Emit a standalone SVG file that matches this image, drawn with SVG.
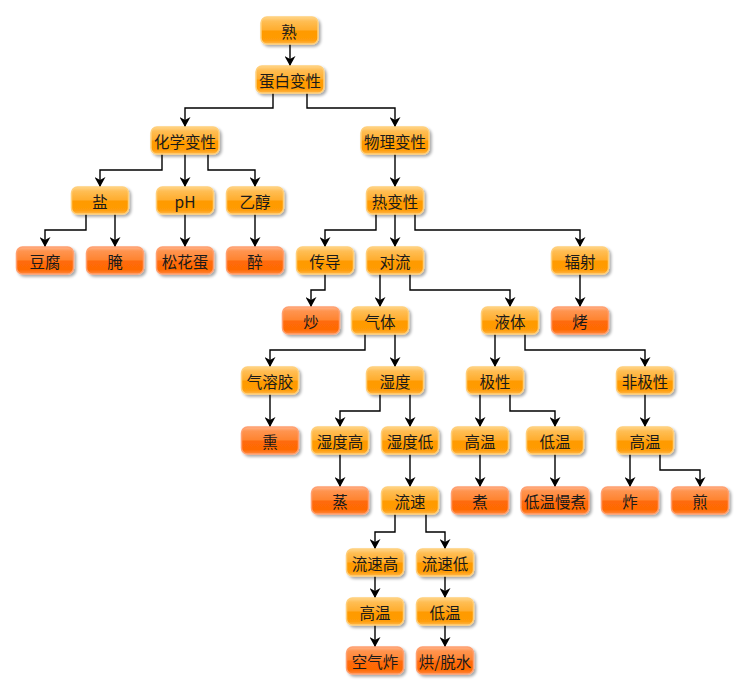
<svg xmlns="http://www.w3.org/2000/svg" width="745" height="690" viewBox="0 0 745 690">
<defs>
<linearGradient id="gi" x1="0" y1="0" x2="0" y2="1">
<stop offset="0" stop-color="#FFD58A"/>
<stop offset="0.15" stop-color="#FFBE55"/>
<stop offset="0.48" stop-color="#FFAD2E"/>
<stop offset="0.52" stop-color="#FF9A00"/>
<stop offset="0.85" stop-color="#FF9C08"/>
<stop offset="1" stop-color="#FFB648"/>
</linearGradient>
<linearGradient id="gl" x1="0" y1="0" x2="0" y2="1">
<stop offset="0" stop-color="#FFB58A"/>
<stop offset="0.15" stop-color="#FF9450"/>
<stop offset="0.48" stop-color="#FF8430"/>
<stop offset="0.52" stop-color="#FF6A08"/>
<stop offset="0.85" stop-color="#FF6A05"/>
<stop offset="1" stop-color="#FF8A40"/>
</linearGradient>
<filter id="sh" x="-20%" y="-30%" width="150%" height="180%">
<feGaussianBlur in="SourceAlpha" stdDeviation="1.5"/>
<feOffset dx="2" dy="2" result="b"/>
<feComponentTransfer><feFuncA type="linear" slope="0.35"/></feComponentTransfer>
<feMerge><feMergeNode/><feMergeNode in="SourceGraphic"/></feMerge>
</filter>
<marker id="ah" markerWidth="10" markerHeight="11" refX="10" refY="5.5" orient="auto" markerUnits="userSpaceOnUse">
<path d="M0,0 L10,5.5 L0,11 L3,5.5 Z" fill="#000"/>
</marker>
</defs>
<style>
.n rect{fill:url(#gi);stroke:#FFCF7A;stroke-width:1.5;filter:url(#sh)}
.l rect{fill:url(#gl);stroke:#FFA070;stroke-width:1.5;filter:url(#sh)}
text{font-family:"Noto Sans CJK SC","Noto Sans",sans-serif;font-size:15.5px;fill:#1a1a1a;text-anchor:middle;dominant-baseline:central}
#edges path{fill:none;stroke:#000;stroke-width:1.4;marker-end:url(#ah)}
</style>
<g id="edges">
<path d="M290,44 V66"/>
<path d="M273,93 V108 H185 V127"/>
<path d="M307,93 V108 H395 V127"/>
<path d="M162,154 V170 H100 V187"/>
<path d="M185,154 V187"/>
<path d="M208,154 V170 H255 V187"/>
<path d="M395,154 V187"/>
<path d="M86,214 V230 H45 V247"/>
<path d="M115,214 V247"/>
<path d="M185,214 V247"/>
<path d="M255,214 V247"/>
<path d="M376,214 V230 H325 V247"/>
<path d="M395,214 V247"/>
<path d="M415,214 V230 H580 V247"/>
<path d="M325,274 V290 H311 V307"/>
<path d="M380,274 V307"/>
<path d="M410,274 V290 H510 V307"/>
<path d="M580,274 V307"/>
<path d="M365,334 V350 H270 V367"/>
<path d="M395,334 V367"/>
<path d="M495,334 V367"/>
<path d="M525,334 V350 H645 V367"/>
<path d="M270,394 V427"/>
<path d="M380,394 V411 H340 V427"/>
<path d="M410,394 V427"/>
<path d="M480,394 V427"/>
<path d="M510,394 V411 H555 V427"/>
<path d="M645,394 V427"/>
<path d="M340,454 V487"/>
<path d="M410,454 V487"/>
<path d="M480,454 V487"/>
<path d="M555,454 V487"/>
<path d="M630,454 V487"/>
<path d="M660,454 V470 H700 V487"/>
<path d="M395,514 V532 H375 V549"/>
<path d="M426,514 V532 H445 V549"/>
<path d="M375,576 V598"/>
<path d="M445,576 V598"/>
<path d="M375,625 V647"/>
<path d="M445,625 V647"/>
</g>
<g id="n-shu" class="n"><rect x="261" y="17" width="57" height="27" rx="6"/><text x="289" y="30.5">熟</text></g>
<g id="n-danbai" class="n"><rect x="256" y="66" width="68" height="27" rx="6"/><text x="290" y="79.5">蛋白变性</text></g>
<g id="n-huaxue" class="n"><rect x="151" y="127" width="68" height="27" rx="6"/><text x="185" y="140.5">化学变性</text></g>
<g id="n-wuli" class="n"><rect x="361" y="127" width="68" height="27" rx="6"/><text x="395" y="140.5">物理变性</text></g>
<g id="n-yan" class="n"><rect x="71.5" y="187" width="57" height="27" rx="6"/><text x="100" y="200.5">盐</text></g>
<g id="n-ph" class="n"><rect x="156.5" y="187" width="57" height="27" rx="6"/><text x="185" y="200.5">pH</text></g>
<g id="n-yichun" class="n"><rect x="226.5" y="187" width="57" height="27" rx="6"/><text x="255" y="200.5">乙醇</text></g>
<g id="n-rebian" class="n"><rect x="366.5" y="187" width="57" height="27" rx="6"/><text x="395" y="200.5">热变性</text></g>
<g id="n-doufu" class="l"><rect x="16.5" y="247" width="57" height="27" rx="6"/><text x="45" y="260.5">豆腐</text></g>
<g id="n-yan2" class="l"><rect x="86.5" y="247" width="57" height="27" rx="6"/><text x="115" y="260.5">腌</text></g>
<g id="n-songhua" class="l"><rect x="156.5" y="247" width="57" height="27" rx="6"/><text x="185" y="260.5">松花蛋</text></g>
<g id="n-zui" class="l"><rect x="226.5" y="247" width="57" height="27" rx="6"/><text x="255" y="260.5">醉</text></g>
<g id="n-chuandao" class="n"><rect x="296.5" y="247" width="57" height="27" rx="6"/><text x="325" y="260.5">传导</text></g>
<g id="n-duiliu" class="n"><rect x="366.5" y="247" width="57" height="27" rx="6"/><text x="395" y="260.5">对流</text></g>
<g id="n-fushe" class="n"><rect x="551.5" y="247" width="57" height="27" rx="6"/><text x="580" y="260.5">辐射</text></g>
<g id="n-chao" class="l"><rect x="282.5" y="307" width="57" height="27" rx="6"/><text x="311" y="320.5">炒</text></g>
<g id="n-qiti" class="n"><rect x="351.5" y="307" width="57" height="27" rx="6"/><text x="380" y="320.5">气体</text></g>
<g id="n-yeti" class="n"><rect x="481.5" y="307" width="57" height="27" rx="6"/><text x="510" y="320.5">液体</text></g>
<g id="n-kao" class="l"><rect x="551.5" y="307" width="57" height="27" rx="6"/><text x="580" y="320.5">烤</text></g>
<g id="n-qirongjiao" class="n"><rect x="241.5" y="367" width="57" height="27" rx="6"/><text x="270" y="380.5">气溶胶</text></g>
<g id="n-shidu" class="n"><rect x="366.5" y="367" width="57" height="27" rx="6"/><text x="395" y="380.5">湿度</text></g>
<g id="n-jixing" class="n"><rect x="466.5" y="367" width="57" height="27" rx="6"/><text x="495" y="380.5">极性</text></g>
<g id="n-feijixing" class="n"><rect x="616.5" y="367" width="57" height="27" rx="6"/><text x="645" y="380.5">非极性</text></g>
<g id="n-xun" class="l"><rect x="241.5" y="427" width="57" height="27" rx="6"/><text x="270" y="440.5">熏</text></g>
<g id="n-shidugao" class="n"><rect x="311.5" y="427" width="57" height="27" rx="6"/><text x="340" y="440.5">湿度高</text></g>
<g id="n-shidudi" class="n"><rect x="381.5" y="427" width="57" height="27" rx="6"/><text x="410" y="440.5">湿度低</text></g>
<g id="n-gaowen1" class="n"><rect x="451.5" y="427" width="57" height="27" rx="6"/><text x="480" y="440.5">高温</text></g>
<g id="n-diwen1" class="n"><rect x="526.5" y="427" width="57" height="27" rx="6"/><text x="555" y="440.5">低温</text></g>
<g id="n-gaowen2" class="n"><rect x="616.5" y="427" width="57" height="27" rx="6"/><text x="645" y="440.5">高温</text></g>
<g id="n-zheng" class="l"><rect x="311.5" y="487" width="57" height="27" rx="6"/><text x="340" y="500.5">蒸</text></g>
<g id="n-liusu" class="n"><rect x="381.5" y="487" width="57" height="27" rx="6"/><text x="410" y="500.5">流速</text></g>
<g id="n-zhu" class="l"><rect x="451.5" y="487" width="57" height="27" rx="6"/><text x="480" y="500.5">煮</text></g>
<g id="n-diwenmanzhu" class="l"><rect x="521" y="487" width="68" height="27" rx="6"/><text x="555" y="500.5">低温慢煮</text></g>
<g id="n-zha" class="l"><rect x="601.5" y="487" width="57" height="27" rx="6"/><text x="630" y="500.5">炸</text></g>
<g id="n-jian" class="l"><rect x="671.5" y="487" width="57" height="27" rx="6"/><text x="700" y="500.5">煎</text></g>
<g id="n-liusugao" class="n"><rect x="346.5" y="549" width="57" height="27" rx="6"/><text x="375" y="562.5">流速高</text></g>
<g id="n-liusudi" class="n"><rect x="416.5" y="549" width="57" height="27" rx="6"/><text x="445" y="562.5">流速低</text></g>
<g id="n-gaowen3" class="n"><rect x="346.5" y="598" width="57" height="27" rx="6"/><text x="375" y="611.5">高温</text></g>
<g id="n-diwen3" class="n"><rect x="416.5" y="598" width="57" height="27" rx="6"/><text x="445" y="611.5">低温</text></g>
<g id="n-kongqizha" class="l"><rect x="346.5" y="647" width="57" height="27" rx="6"/><text x="375" y="660.5">空气炸</text></g>
<g id="n-hong" class="l"><rect x="416.5" y="647" width="57" height="27" rx="6"/><text x="445" y="660.5">烘/脱水</text></g>
</svg>
